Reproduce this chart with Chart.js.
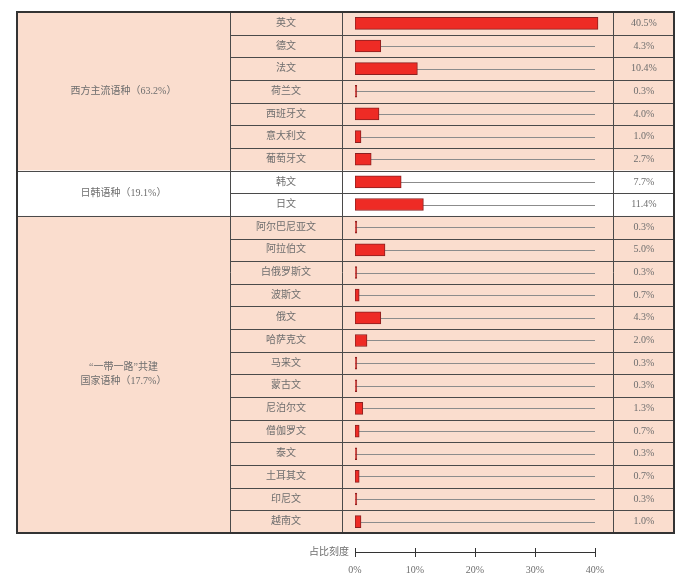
<!DOCTYPE html>
<html><head><meta charset="utf-8">
<script src="https://cdn.jsdelivr.net/npm/chart.js@4.4.0/dist/chart.umd.min.js"></script>
<style>html,body{margin:0;padding:0;background:#fff;}canvas{display:block;}</style>
</head><body>
<canvas id="c" style="width:700px;height:576px"></canvas>
<script>
// ---- data ----
const languages = ['英文','德文','法文','荷兰文','西班牙文','意大利文','葡萄牙文','韩文','日文','阿尔巴尼亚文','阿拉伯文','白俄罗斯文','波斯文','俄文','哈萨克文','马来文','蒙古文','尼泊尔文','僧伽罗文','泰文','土耳其文','印尼文','越南文'];
const shares = [40.5,4.3,10.4,0.3,4.0,1.0,2.7,7.7,11.4,0.3,5.0,0.3,0.7,4.3,2.0,0.3,0.3,1.3,0.7,0.3,0.7,0.3,1.0];
const groupLines = [['西方主流语种（63.2%）'],['日韩语种（19.1%）'],['“一带一路”共建','国家语种（17.7%）']];
const groupSizes = [7,2,14];
const axisTicks = [0,10,20,30,40];
const axisTitle = '占比刻度';
const trackMax = 40;

// ---- styles ----
const groupFills = ['#FADDCE','#FFFFFF','#FADDCE'];
const TXT = '#6e6e6e';
const FONT_FAMILY = "'Liberation Serif','Noto Sans CJK SC',serif";
const TABLE_LEFT = 17, COL2 = 342;
const AXIS_POS = languages.length + 0.34;

function noPad(scale) {
  scale.paddingTop = 0; scale.paddingBottom = 0;
  scale.paddingLeft = 0; scale.paddingRight = 0;
}

const tablePlugin = {
  id: 'table',
  beforeDraw(chart) {
    const {ctx, chartArea, scales} = chart;
    const y = scales.y, y2 = scales.y2;
    const rowH = y.getPixelForValue(1) - y.getPixelForValue(0);
    const L = TABLE_LEFT, R = y2.right, c1 = y.left, c3 = y2.left;
    ctx.save();
    let start = 0;
    const bounds = [];
    groupSizes.forEach((n, g) => {
      const y0 = y.getPixelForValue(start) - rowH / 2;
      const y1 = y.getPixelForValue(start + n - 1) + rowH / 2;
      ctx.fillStyle = groupFills[g];
      ctx.fillRect(L, y0, R - L, y1 - y0);
      bounds.push([y0, y1]);
      start += n;
    });
    ctx.strokeStyle = '#4a4a4a';
    ctx.lineWidth = 1;
    for (let i = 1; i < languages.length; i++) {
      const py = Math.round(y.getPixelForValue(i) - rowH / 2) + 0.5;
      ctx.beginPath(); ctx.moveTo(c1, py); ctx.lineTo(R, py); ctx.stroke();
    }
    bounds.slice(1).forEach(([y0]) => {
      const py = Math.round(y0) + 0.5;
      ctx.beginPath(); ctx.moveTo(L, py); ctx.lineTo(c1, py); ctx.stroke();
    });
    [c1, COL2, c3].forEach(px => {
      const xx = Math.round(px) + 0.5;
      ctx.beginPath(); ctx.moveTo(xx, chartArea.top); ctx.lineTo(xx, chartArea.bottom); ctx.stroke();
    });
    // group labels
    ctx.fillStyle = TXT;
    ctx.font = '10px ' + FONT_FAMILY;
    ctx.textAlign = 'center';
    ctx.textBaseline = 'middle';
    groupLines.forEach((lines, g) => {
      const cy = (bounds[g][0] + bounds[g][1]) / 2;
      const lh = 14;
      lines.forEach((t, k) => {
        ctx.fillText(t, (L + c1) / 2, cy + (k - (lines.length - 1) / 2) * lh);
      });
    });
    ctx.restore();
  },
  beforeDatasetsDraw(chart) {
    const {ctx, scales} = chart;
    const x = scales.x, y = scales.y;
    ctx.save();
    ctx.strokeStyle = '#8c8c8c';
    ctx.lineWidth = 1;
    languages.forEach((_, i) => {
      const py = Math.round(y.getPixelForValue(i)) + 0.5;
      ctx.beginPath(); ctx.moveTo(x.getPixelForValue(0), py); ctx.lineTo(x.getPixelForValue(trackMax), py); ctx.stroke();
    });
    ctx.restore();
  },
  afterDraw(chart) {
    const {ctx, chartArea, scales} = chart;
    const x = scales.x, y = scales.y, y2 = scales.y2;
    ctx.save();
    // outer border
    ctx.strokeStyle = '#333';
    ctx.lineWidth = 2;
    ctx.strokeRect(TABLE_LEFT, chartArea.top, y2.right - TABLE_LEFT, chartArea.bottom - chartArea.top);
    // bottom scale axis
    const ay = Math.round(y.getPixelForValue(AXIS_POS)) + 0.5;
    ctx.lineWidth = 1;
    ctx.strokeStyle = '#333';
    ctx.beginPath();
    ctx.moveTo(x.getPixelForValue(axisTicks[0]), ay);
    ctx.lineTo(x.getPixelForValue(axisTicks[axisTicks.length - 1]), ay);
    ctx.stroke();
    axisTicks.forEach(v => {
      const px = Math.round(x.getPixelForValue(v)) + 0.5;
      ctx.beginPath(); ctx.moveTo(px, ay - 4.5); ctx.lineTo(px, ay + 4.5); ctx.stroke();
    });
    ctx.fillStyle = TXT;
    ctx.font = '10px ' + FONT_FAMILY;
    ctx.textAlign = 'right';
    ctx.textBaseline = 'middle';
    ctx.fillText(axisTitle, x.getPixelForValue(0) - 6, ay);
    ctx.restore();
  }
};

const tickFont = {family: FONT_FAMILY, size: 10};

new Chart(document.getElementById('c'), {
  type: 'bar',
  data: {
    labels: languages,
    datasets: [{
      data: shares,
      yAxisID: 'y',
      xAxisID: 'x',
      backgroundColor: '#EE2B25',
      borderColor: '#8A2020',
      borderWidth: 1,
      borderSkipped: false,
      barThickness: 12
    }]
  },
  options: {
    indexAxis: 'y',
    responsive: false,
    animation: false,
    events: [],
    layout: {padding: {left: 230, right: 26, top: 12, bottom: 43}},
    plugins: {legend: {display: false}, tooltip: {enabled: false}},
    scales: {
      x: {
        type: 'linear',
        min: 0,
        max: 43,
        position: {y: AXIS_POS},
        grid: {display: false, drawTicks: false},
        border: {display: false},
        afterBuildTicks(scale) { scale.ticks = axisTicks.map(v => ({value: v})); },
        afterFit: noPad,
        ticks: {
          callback: v => v + '%',
          color: TXT,
          font: tickFont,
          padding: 12,
          maxRotation: 0
        }
      },
      y: {
        type: 'category',
        position: 'left',
        offset: true,
        grid: {display: false, drawTicks: false},
        border: {display: false},
        afterFit(scale) { scale.width = 125; noPad(scale); },
        ticks: {color: TXT, font: tickFont, crossAlign: 'center', padding: 39, autoSkip: false}
      },
      y2: {
        type: 'category',
        position: 'right',
        offset: true,
        labels: shares.map(v => v.toFixed(1) + '%'),
        grid: {display: false, drawTicks: false},
        border: {display: false},
        afterFit(scale) { scale.width = 61; noPad(scale); },
        ticks: {color: TXT, font: tickFont, crossAlign: 'center', padding: 18, autoSkip: false}
      }
    }
  },
  plugins: [tablePlugin]
});
</script>
</body></html>
